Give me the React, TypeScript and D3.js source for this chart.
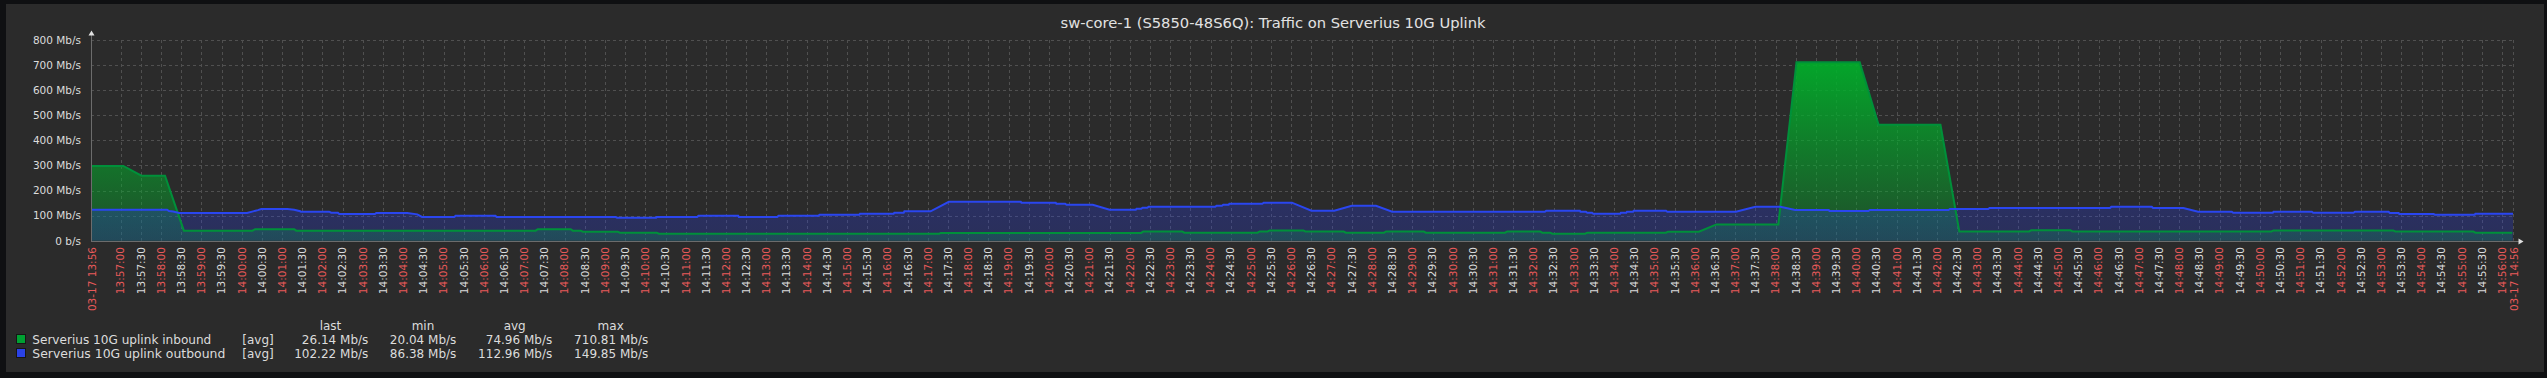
import React from "react";
import * as d3 from "d3";

const W = 2547;
const H = 378;

const title = "sw-core-1 (S5850-48S6Q): Traffic on Serverius 10G Uplink";
const startTime = "13:56:16";
const endTime = "14:56:16";
const startLabel = "03-17 13:56";
const endLabel = "03-17 14:56";

const yTicks = [0, 100, 200, 300, 400, 500, 600, 700, 800];
const yTickLabels = ["0 b/s", "100 Mb/s", "200 Mb/s", "300 Mb/s", "400 Mb/s", "500 Mb/s", "600 Mb/s", "700 Mb/s", "800 Mb/s"];

// inbound (Mb/s)
const inTimes = ["13:56:16","13:57:04","13:57:31","13:58:06","13:58:34","14:00:16","14:00:20","14:01:18","14:01:21","14:07:17","14:07:20","14:08:09","14:08:12","14:08:24","14:08:27","14:09:19","14:09:22","14:10:17","14:10:20","14:17:17","14:17:19","14:22:17","14:22:20","14:23:18","14:23:21","14:25:10","14:25:13","14:25:25","14:25:28","14:26:18","14:26:21","14:27:18","14:27:21","14:28:18","14:28:21","14:29:17","14:29:20","14:31:18","14:31:21","14:32:10","14:32:13","14:32:25","14:32:28","14:33:17","14:33:20","14:35:17","14:35:20","14:36:06","14:36:32","14:38:04","14:38:31","14:40:05","14:40:33","14:42:05","14:42:33","14:44:17","14:44:20","14:45:18","14:45:21","14:50:17","14:50:20","14:53:18","14:53:21","14:55:17","14:55:20","14:56:15"];
const inValues = [298,298,259,259,40,40,46,46,40,40,46,46,40,40,36,36,32,32,28,28,31,31,37,37,32,32,37,37,41,41,37,37,32,32,37,37,32,32,37,37,32,32,28,28,32,32,36,36,65,65,711,711,462,462,37,37,42,42,37,37,41,41,37,37,32,32];

// outbound (Mb/s)
const outTimes = ["13:56:16","13:58:09","13:58:12","13:58:18","13:58:27","14:00:08","14:00:17","14:00:24","14:00:29","14:01:08","14:01:18","14:01:27","14:01:28","14:02:10","14:02:13","14:02:23","14:02:25","14:03:18","14:03:20","14:04:06","14:04:21","14:04:28","14:05:16","14:05:18","14:06:17","14:06:19","14:09:16","14:09:18","14:10:16","14:10:17","14:11:17","14:11:19","14:12:18","14:12:19","14:13:16","14:13:18","14:14:17","14:14:19","14:15:18","14:15:19","14:16:09","14:16:10","14:16:24","14:16:25","14:17:04","14:17:31","14:19:18","14:19:19","14:20:10","14:20:11","14:20:24","14:20:26","14:21:05","14:21:30","14:22:09","14:22:10","14:22:17","14:22:19","14:22:26","14:22:28","14:24:07","14:24:09","14:24:17","14:24:19","14:24:27","14:24:28","14:25:17","14:25:19","14:26:01","14:26:30","14:27:04","14:27:30","14:28:06","14:28:30","14:32:17","14:32:19","14:33:09","14:33:10","14:33:18","14:33:20","14:33:27","14:33:29","14:34:09","14:34:10","14:34:18","14:34:19","14:34:28","14:34:29","14:35:17","14:35:19","14:37:01","14:37:30","14:38:07","14:38:29","14:39:19","14:39:20","14:40:18","14:40:20","14:42:17","14:42:19","14:43:16","14:43:18","14:46:17","14:46:19","14:47:19","14:47:21","14:48:06","14:48:28","14:49:18","14:49:20","14:50:19","14:50:20","14:51:17","14:51:19","14:52:19","14:52:21","14:53:11","14:53:13","14:53:26","14:53:27","14:54:18","14:54:20","14:55:19","14:55:20","14:56:16"];
const outValues = [123.6,123.6,118,116,110.4,110.4,117,122,126.3,126.3,123.6,117.5,115.6,115.6,111.6,111.6,106.4,106.4,110.4,110.4,105,94.5,94.5,99.6,99.6,94.5,94.5,91.7,91.7,94.5,94.5,99.6,99.6,94.5,94.5,99.6,99.6,103.6,103.6,107.6,107.6,111.6,111.6,117,117,155,155,151.5,151.5,147.5,147.5,143.5,143.5,123.6,123.6,127.5,127.5,131.5,131.5,135.5,135.5,139.5,139.5,143.5,143.5,147.5,147.5,151.5,151.5,119.6,119.6,139.5,139.5,115.6,115.6,119.6,119.6,115.6,115.6,111.6,111.6,107.6,107.6,111.6,111.6,115.6,115.6,119.6,119.6,115.6,115.6,135.5,135.5,122.4,122.4,118.4,118.4,122.4,122.4,126.3,126.3,130.3,130.3,135.5,135.5,130.3,130.3,115.6,115.6,111.6,111.6,115.6,115.6,111.6,111.6,115.6,115.6,110.4,110.4,106.4,106.4,103.6,103.6,107.6,107.6];

const legendNames = ["Serverius 10G uplink inbound", "Serverius 10G uplink outbound"];
const legendFunc = ["[avg]", "[avg]"];
const legendHeaders = ["last", "min", "avg", "max"];
const legendLast = ["26.14 Mb/s", "102.22 Mb/s"];
const legendMin = ["20.04 Mb/s", "86.38 Mb/s"];
const legendAvg = ["74.96 Mb/s", "112.96 Mb/s"];
const legendMax = ["710.81 Mb/s", "149.85 Mb/s"];

const FONT = "DejaVu Sans, Verdana, sans-serif";

export default function App() {
  const parse = d3.timeParse("%H:%M:%S");
  const t0 = parse(startTime) as Date;
  const t1 = parse(endTime) as Date;
  const left = 91;
  const right = 2513;
  const top = 40;
  const bottom = 240.7;
  const x = d3.scaleTime().domain([t0, t1]).range([left, right]);
  const y = d3.scaleLinear().domain([0, 800]).range([bottom, top]);

  const inData = inTimes.map((t, i) => ({ t: parse(t) as Date, v: inValues[i] }));
  const outData = outTimes.map((t, i) => ({ t: parse(t) as Date, v: outValues[i] }));

  const area = d3.area<{ t: Date; v: number }>().x((d) => x(d.t)).y0(y(0)).y1((d) => y(d.v));
  const line = d3.line<{ t: Date; v: number }>().x((d) => x(d.t)).y((d) => y(d.v));

  const ticks = x.ticks(d3.timeSecond.every(30) as any).filter((d) => x(d) - left > 15);
  const fmt = d3.timeFormat("%H:%M:%S");

  const gridColor = "#505050";
  const axisColor = "#6c6c6c";
  const textColor = "#dcdcdc";
  const redColor = "#e85a5a";

  const colHeadX = [330.5, 423, 514.7, 610.7];
  const colValX = [368.3, 456.3, 552.2, 648.2];
  const legendCols = [legendLast, legendMin, legendAvg, legendMax];
  const legendColors = ["#00a032", "#2a42e6"];
  const rowBase = [344, 358];

  return (
    <svg
      width={W}
      height={H}
      style={{ position: "absolute", left: 0, top: 0, display: "block" }}
      fontFamily={FONT}
    >
      <defs>
        <linearGradient id="gIn" gradientUnits="userSpaceOnUse" x1={0} y1={top} x2={0} y2={bottom}>
          <stop offset="0%" stopColor="#00b02a" stopOpacity={1} />
          <stop offset="100%" stopColor="#00b02a" stopOpacity={0.26} />
        </linearGradient>
        <linearGradient id="gOut" gradientUnits="userSpaceOnUse" x1={0} y1={top} x2={0} y2={bottom}>
          <stop offset="0%" stopColor="#283ce6" stopOpacity={0.5} />
          <stop offset="100%" stopColor="#283ce6" stopOpacity={0.25} />
        </linearGradient>
      </defs>
      <rect x={0} y={0} width={W} height={H} fill="#0f1012" />
      <rect x={6} y={4} width={2538} height={368} fill="#2b2b2b" />

      <text x={1273} y={28} textAnchor="middle" fontSize={14} fill="#e2e2e2" textLength={425} lengthAdjust="spacingAndGlyphs">
        {title}
      </text>

      {/* grid */}
      {yTicks.filter((v) => v > 0).map((v) => (
        <line key={"hy" + v} x1={left} x2={right} y1={Math.round(y(v)) + 0.5} y2={Math.round(y(v)) + 0.5} stroke={gridColor} strokeDasharray="3,3" />
      ))}
      {ticks.map((d, i) => (
        <line key={"vx" + i} x1={Math.round(x(d)) + 0.5} x2={Math.round(x(d)) + 0.5} y1={top} y2={bottom} stroke={gridColor} strokeDasharray="3,3" />
      ))}
      <line x1={right + 0.5} x2={right + 0.5} y1={top} y2={bottom} stroke={gridColor} strokeDasharray="3,3" />

      {/* series */}
      <path d={area(inData) || ""} fill="url(#gIn)" />
      <path d={area(outData) || ""} fill="url(#gOut)" />
      <path d={line(inData) || ""} fill="none" stroke="#00903a" strokeWidth={2} />
      <path d={line(outData) || ""} fill="none" stroke="#2a46f0" strokeWidth={2} />

      {/* axes */}
      <line x1={left + 0.5} x2={left + 0.5} y1={34} y2={241} stroke={axisColor} />
      <line x1={left} x2={2519} y1={241.5} y2={241.5} stroke={axisColor} />
      <polygon points={`${left + 0.5},30.5 ${left - 2.5},35.5 ${left + 3.5},35.5`} fill="#e0e0e0" />
      <polygon points="2518.5,238.5 2523.5,241.5 2518.5,244.5" fill="#e0e0e0" />

      {/* y labels */}
      {yTicks.map((v, i) => (
        <text key={"yl" + v} x={81} y={y(v) + 3.8} textAnchor="end" fontSize={10.5} fill={textColor}>
          {yTickLabels[i]}
        </text>
      ))}

      {/* x labels */}
      <text transform={`translate(${x(t0) + 4.8},247) rotate(-90)`} textAnchor="end" fontSize={10.5} fill={redColor}>
        {startLabel}
      </text>
      {ticks.map((d, i) => (
        <text
          key={"xl" + i}
          transform={`translate(${x(d) + 3.8},247) rotate(-90)`}
          textAnchor="end"
          fontSize={10.5}
          fill={d.getSeconds() === 0 ? redColor : textColor}
        >
          {fmt(d)}
        </text>
      ))}
      <text transform={`translate(${x(t1) + 4.8},247) rotate(-90)`} textAnchor="end" fontSize={10.5} fill={redColor}>
        {endLabel}
      </text>

      {/* legend */}
      {legendHeaders.map((h, i) => (
        <text key={"lh" + h} x={colHeadX[i]} y={330} textAnchor="middle" fontSize={12} fill={textColor}>
          {h}
        </text>
      ))}
      {legendNames.map((n, r) => (
        <g key={"lg" + r}>
          <rect x={16.5} y={rowBase[r] - 9.5} width={9} height={9} fill={legendColors[r]} stroke="#161616" />
          <text x={32.3} y={rowBase[r]} fontSize={12} fill={textColor} textLength={r === 0 ? 179 : 193} lengthAdjust="spacingAndGlyphs">
            {n}
          </text>
          <text x={242.3} y={rowBase[r]} fontSize={12} fill={textColor}>
            {legendFunc[r]}
          </text>
          {legendCols.map((col, c) => (
            <text key={"lv" + c} x={colValX[c]} y={rowBase[r]} textAnchor="end" fontSize={12} fill={textColor}>
              {col[r]}
            </text>
          ))}
        </g>
      ))}
    </svg>
  );
}
